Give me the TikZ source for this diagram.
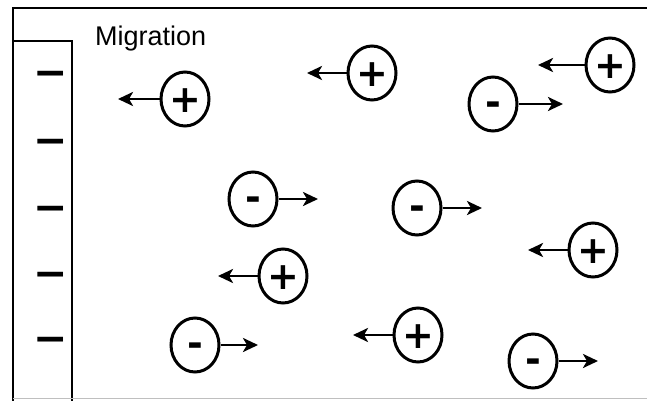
\documentclass[tikz,border=0pt]{standalone}
\usepackage{fontspec}
\setmainfont{Liberation Sans}
\newfontfamily\signfont{DejaVu Sans}[BoldFont={DejaVu Sans Bold}]
\usetikzlibrary{shapes.geometric,arrows.meta}
\tikzset{
  ion/.style={ellipse, draw, line width=3pt, minimum width=48pt, minimum height=54pt,
    inner sep=0pt, font=\signfont\bfseries\fontsize{38}{38}\selectfont, text depth=0pt},
  pion/.style={ion, text height=26.6pt},
  nion/.style={ion, text height=23.6pt},
  arr/.style={line width=2.8pt, -{Stealth[length=15pt,width=14pt,inset=4pt]}},
  elec/.style={font=\signfont\bfseries\fontsize{41}{41}\selectfont, inner sep=0pt,
    text height=28.7pt, text depth=0pt},
  frame/.style={line width=2pt}
}
\begin{document}
\begin{tikzpicture}[x=1pt,y=-1pt]
\useasboundingbox (0,0) rectangle (647,401);
% frame
\coordinate (tl) at (13,8);
\coordinate (tr) at (647,8);
\coordinate (bl) at (13,401);
\coordinate (etl) at (13,41);
\coordinate (etr) at (72,41);
\coordinate (ebr) at (72,401);
\draw[frame] (bl) -- (tl) -- (tr);
\draw[frame] (etl) -- (etr) -- (ebr);
\coordinate (bb1) at (13,398);
\coordinate (bb2) at (647,398);
\draw[black!25, line width=1pt] (bb1) -- (bb2);
% label
\node[font=\fontsize{27}{27}\selectfont, anchor=base west, inner sep=0pt] (mig) at (95,46) {Migration};
% electrode charges
\foreach \i/\y in {1/72,2/140,3/207,4/273,5/338}
  \node[elec] (e\i) at (51,\y) {−};
% positive ions (move left)
\foreach \n/\x/\y/\t in {p1/185/99/118, p2/372/73/307, p3/610/65/538, p4/283/276/218, p5/593/250/528, p6/418/335/353}{
  \node[pion] (\n) at (\x,\y) {+};
  \coordinate (\n t) at (\t,\y);
  \draw[arr] (\n.west) -- (\n t);
}
% negative ions (move right)
\foreach \n/\x/\y/\t in {m1/493/104/563, m2/253/199/318, m3/417/208/482, m4/195/345/258, m5/533/361/598}{
  \node[nion] (\n) at (\x,\y) {-};
  \coordinate (\n t) at (\t,\y);
  \draw[arr] (\n.east) -- (\n t);
}
\end{tikzpicture}
\end{document}
